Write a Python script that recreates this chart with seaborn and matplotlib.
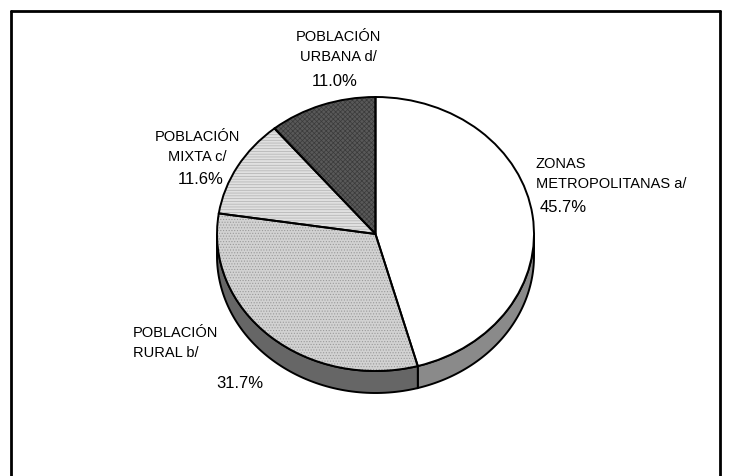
import numpy as np
import matplotlib
matplotlib.use("Agg")
import matplotlib.pyplot as plt
from matplotlib.lines import Line2D
import seaborn as sns

# Distribución de la población por tipo de zona (%)
categories = ["ZONAS\nMETROPOLITANAS a/", "POBLACIÓN\nRURAL b/",
              "POBLACIÓN\nMIXTA c/", "POBLACIÓN\nURBANA d/"]
shares = [45.7, 31.7, 11.6, 11.0]
pct_labels = ["45.7%", "31.7%", "11.6%", "11.0%"]

top_colors = ["#ffffff", "#d2d2d2", "#e0e0e0", "#595959"]
hatches = [None, "......", "------", "xxxxxxx"]
hatch_colors = ["#ffffff", "#9a9a9a", "#b0b0b0", "#3a3a3a"]
side_colors = ["#8a8a8a", "#666666", "#9a9a9a", "#444444"]

sns.set_style("white")
plt.rcParams["font.family"] = ["Liberation Sans", "DejaVu Sans"]
plt.rcParams["text.color"] = "black"
plt.rcParams["hatch.linewidth"] = 0.5

W, H = 729, 476
fig = plt.figure(figsize=(W / 100, H / 100), dpi=100)
ax = fig.add_axes([0, 0, 1, 1])

# pie geometry in pixels (ellipse, Excel-like 3D pie)
cx, cy, rx, ry, depth = 375.5, 234.0, 158.5, 137.0, 22.0
d = depth / ry

# top face: hatched fill, then black outlines
wedges, _ = ax.pie(shares, startangle=90, counterclock=False, radius=1,
                   colors=top_colors,
                   wedgeprops=dict(linewidth=0, zorder=3))
for w, h, hc in zip(wedges, hatches, hatch_colors):
    if h:
        w.set_hatch(h)
        w.set_edgecolor(hc)
ax.pie(shares, startangle=90, counterclock=False, radius=1,
       colors=["none"] * len(shares),
       wedgeprops=dict(linewidth=1.4, edgecolor="black", fill=False, zorder=4))

# side band for the front half of the pie
for w, sc in zip(wedges, side_colors):
    t1, t2 = w.theta1, w.theta2
    # bring angles into the range used by the front half (-180..0)
    while t2 > 180:
        t1 -= 360
        t2 -= 360
    a, b = max(t1, -180), min(t2, 0)
    if a >= b:
        continue
    th = np.radians(np.linspace(a, b, 80))
    xs = np.concatenate([np.cos(th), np.cos(th[::-1])])
    ys = np.concatenate([np.sin(th), np.sin(th[::-1]) - d])
    ax.fill(xs, ys, facecolor=sc, edgecolor="black", linewidth=1.4, zorder=2)

ax.set_aspect("auto")
ax.set_xlim(-cx / rx, (W - cx) / rx)
ax.set_ylim(-(H - cy) / ry, cy / ry)
ax.axis("off")


def put(px, py, s, size, ha="center"):
    fig.text(px / W, 1 - py / H, s, ha=ha, va="center", fontsize=size,
             linespacing=1.5, color="black")


name_size, pct_size = 10.5, 12
# ZONAS METROPOLITANAS
put(536, 174, categories[0], name_size, ha="left")
put(540, 207, pct_labels[0], pct_size, ha="left")
# RURAL
put(133, 343, categories[1], name_size, ha="left")
put(240, 383, pct_labels[1], pct_size)
# MIXTA
put(197, 147, categories[2], name_size)
put(201, 180, pct_labels[2], pct_size)
# URBANA
put(338, 47, categories[3], name_size)
put(335, 81, pct_labels[3], pct_size)

# outer frame
lw = 2.0
fig.add_artist(Line2D([11 / W, 720 / W], [1 - 11 / H, 1 - 11 / H],
                      color="black", linewidth=lw))
fig.add_artist(Line2D([11 / W, 11 / W], [1 - 11 / H, 0],
                      color="black", linewidth=lw))
fig.add_artist(Line2D([720 / W, 720 / W], [1 - 11 / H, 0],
                      color="black", linewidth=lw))

fig.savefig("out.png", dpi=100)
